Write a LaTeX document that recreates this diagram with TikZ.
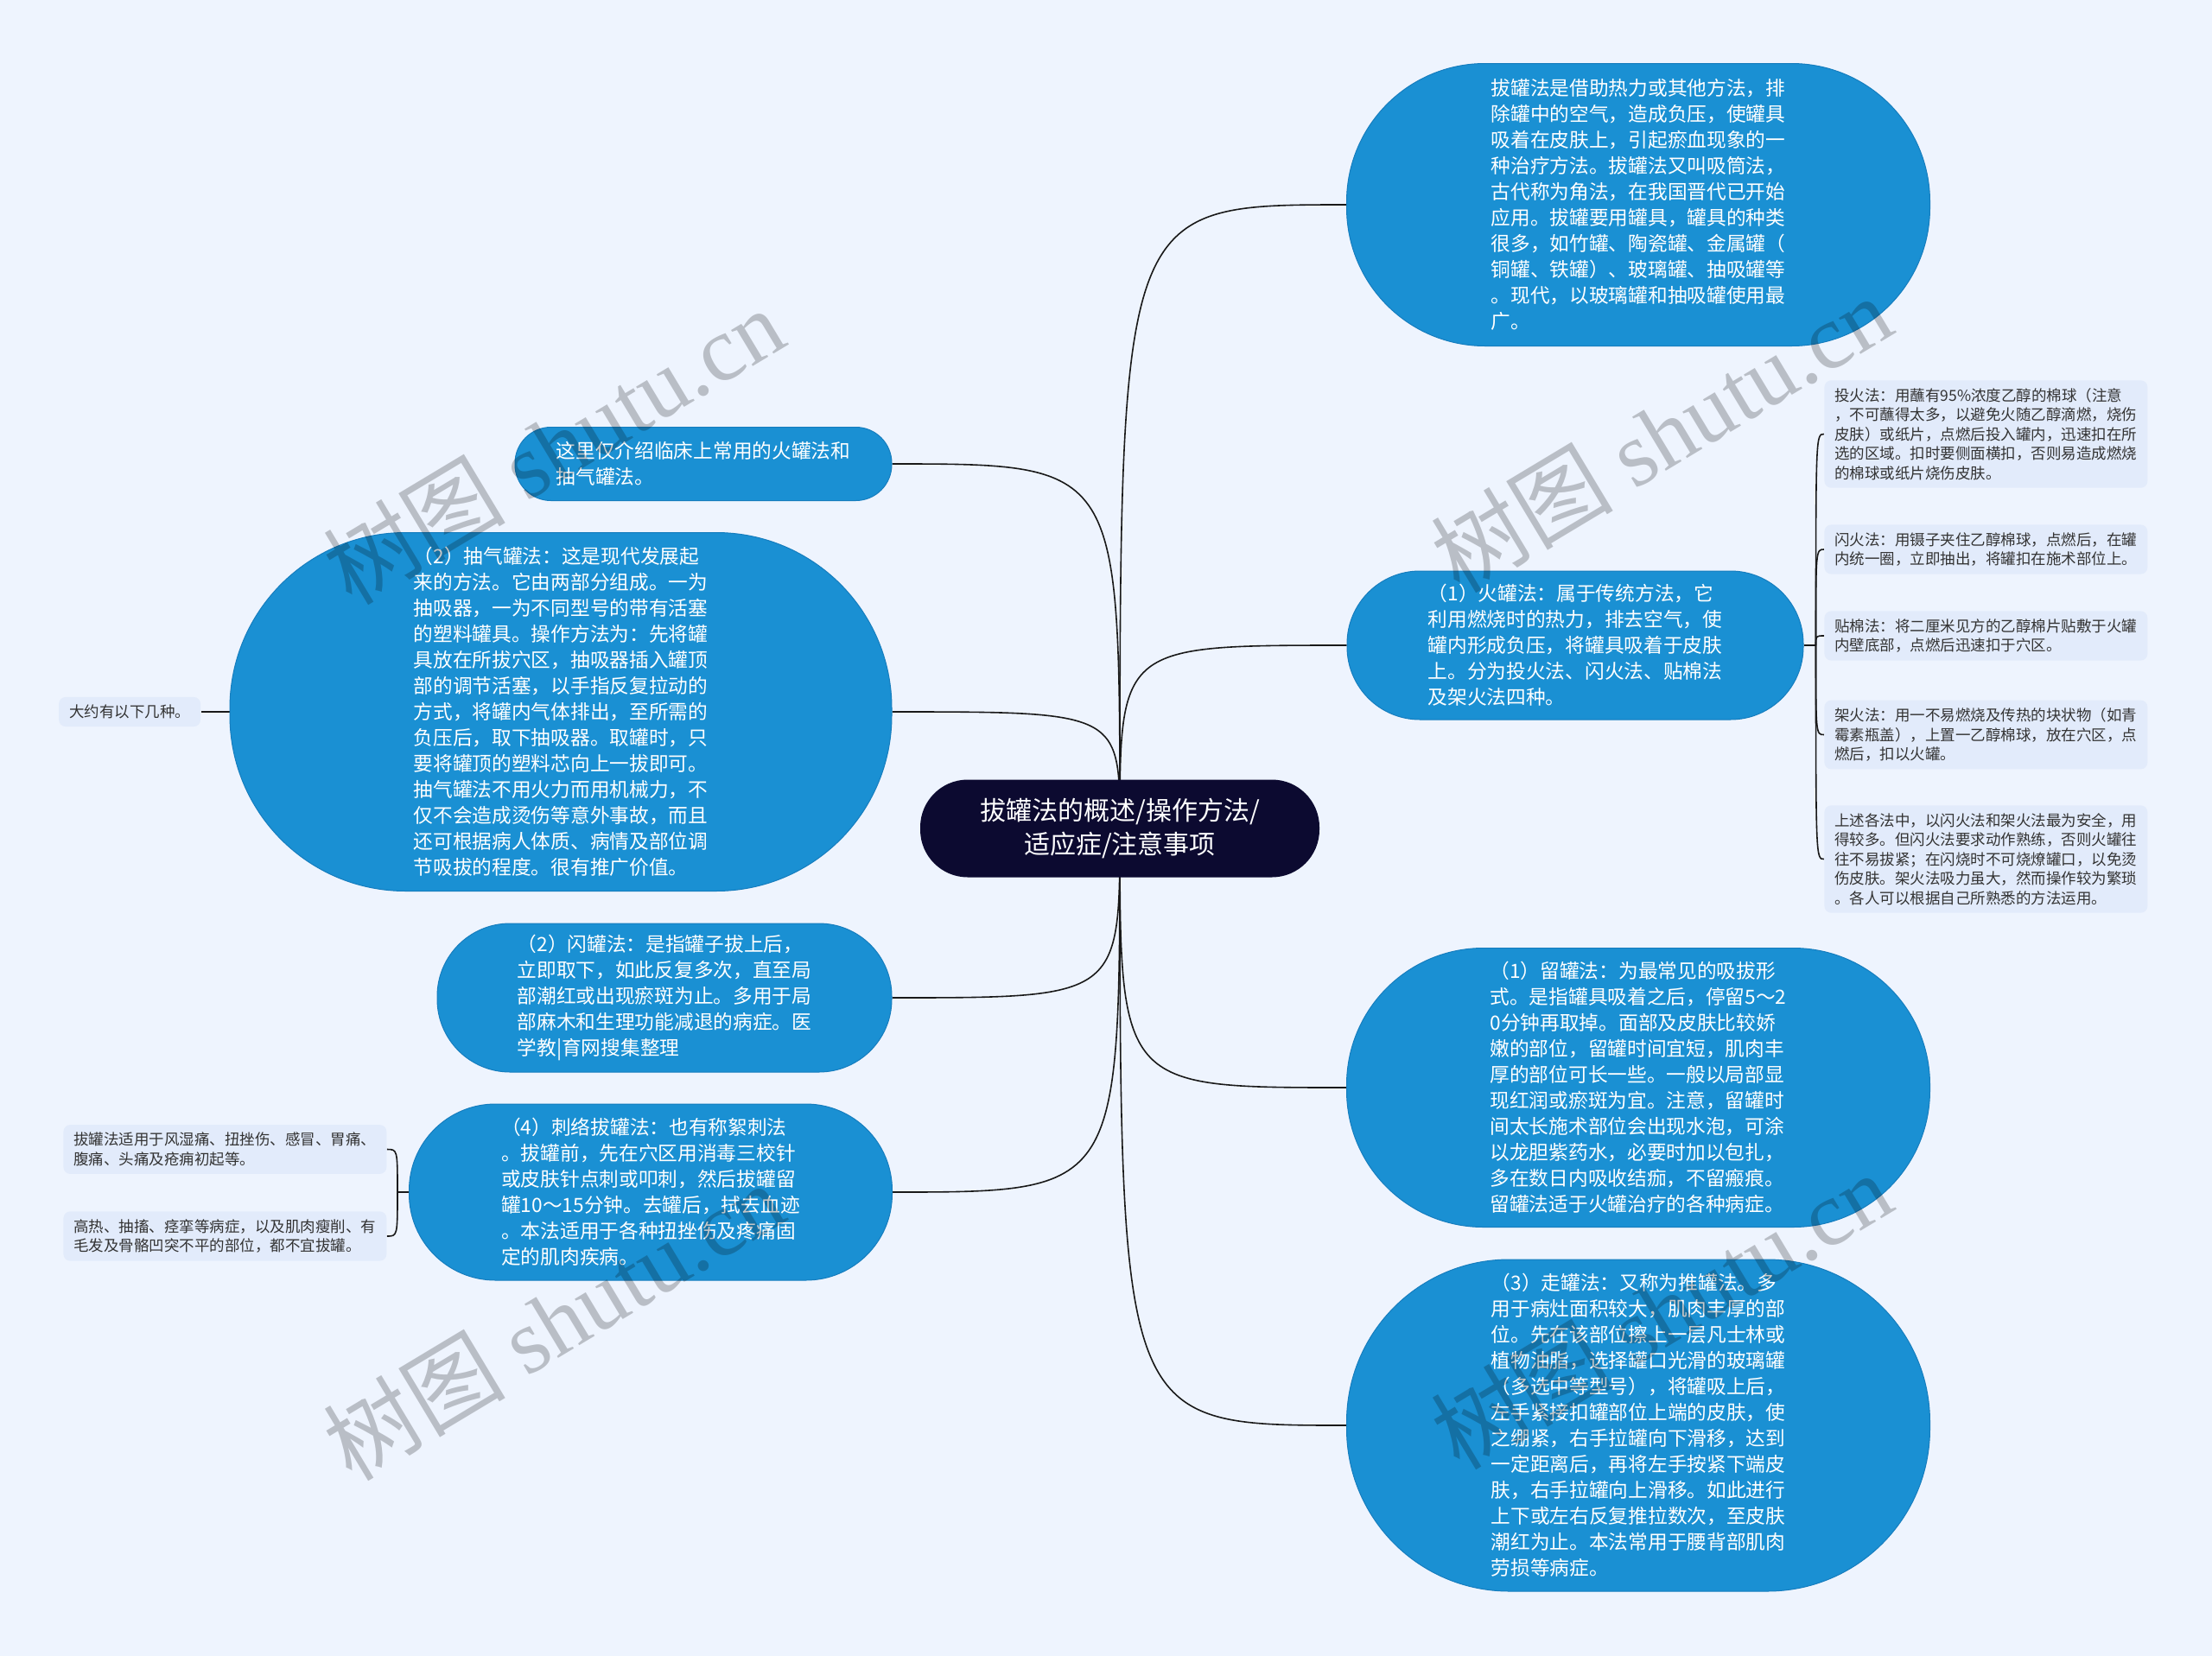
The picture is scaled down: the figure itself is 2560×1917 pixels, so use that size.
\documentclass[tikz,border=0pt]{standalone}
\usepackage{fontspec}
\setmainfont{Noto Sans CJK SC}
\newfontfamily\wmlatin{Liberation Serif}
\usetikzlibrary{positioning,calc}
\definecolor{pagebg}{RGB}{238,244,254}
\definecolor{blobfill}{RGB}{26,144,211}
\definecolor{blobedge}{RGB}{22,125,190}
\definecolor{rootfill}{RGB}{12,10,48}
\definecolor{leaffill}{RGB}{226,235,251}
\definecolor{leaftext}{RGB}{51,51,51}
\definecolor{linkcol}{RGB}{25,25,25}
\pgfdeclarelayer{back}
\pgfdeclarelayer{links}
\pgfsetlayers{back,links,main}

\begin{document}
\begin{tikzpicture}[
  x=0.5pt, y=-0.5pt,
  rootbox/.style={fill=rootfill, text=white, align=center, inner sep=0pt, minimum width=231pt, minimum height=56.5pt, rounded corners=27.5pt, font=\fontsize{15pt}{19.5pt}\selectfont},
  blob/.style 2 args={draw=blobedge, line width=0.5pt, fill=blobfill, text=white, align=left, inner sep=0pt, minimum width=#1, minimum height=#2, rounded corners=0.49*#2, font=\fontsize{11.35pt}{15pt}\selectfont},
  leaf/.style={fill=leaffill, text=leaftext, align=left, inner xsep=6pt, inner ysep=4.5pt, rounded corners=4pt, font=\fontsize{8.75pt}{11.25pt}\selectfont},
  link/.style={draw=linkcol, line width=0.8pt},
  wmark/.style={text=black, opacity=0.22, rotate=31, font=\fontsize{53pt}{60pt}\selectfont}
]
\useasboundingbox (0,0) rectangle (2560,1917);
\begin{pgfonlayer}{back}
  \fill[pagebg] (0,0) rectangle (2560,1917);
\end{pgfonlayer}

\node[rootbox] (root) at (1296,959) {拔罐法的概述/操作方法/\\适应症/注意事项};

\node[blob={337.5pt}{163.5pt}] (overview) at (1896,237)
  {拔罐法是借助热力或其他方法，排\\除罐中的空气，造成负压，使罐具\\吸着在皮肤上，引起瘀血现象的一\\种治疗方法。拔罐法又叫吸筒法，\\古代称为角法，在我国晋代已开始\\应用。拔罐要用罐具，罐具的种类\\很多，如竹罐、陶瓷罐、金属罐（\\铜罐、铁罐）、玻璃罐、抽吸罐等\\。现代，以玻璃罐和抽吸罐使用最\\广。};
\node[blob={264pt}{86pt}] (fire) at (1823,747)
  {（1）火罐法：属于传统方法，它\\利用燃烧时的热力，排去空气，使\\罐内形成负压，将罐具吸着于皮肤\\上。分为投火法、闪火法、贴棉法\\及架火法四种。};
\node[blob={337.5pt}{161.5pt}] (retain) at (1896,1259)
  {（1）留罐法：为最常见的吸拔形\\式。是指罐具吸着之后，停留5～2\\0分钟再取掉。面部及皮肤比较娇\\嫩的部位，留罐时间宜短，肌肉丰\\厚的部位可长一些。一般以局部显\\现红润或瘀斑为宜。注意，留罐时\\间太长施术部位会出现水泡，可涂\\以龙胆紫药水，必要时加以包扎，\\多在数日内吸收结痂，不留瘢痕。\\留罐法适于火罐治疗的各种病症。};
\node[blob={337.5pt}{192pt}] (slide) at (1896,1650)
  {（3）走罐法：又称为推罐法。多\\用于病灶面积较大，肌肉丰厚的部\\位。先在该部位擦上一层凡士林或\\植物油脂，选择罐口光滑的玻璃罐\\（多选中等型号），将罐吸上后，\\左手紧接扣罐部位上端的皮肤，使\\之绷紧，右手拉罐向下滑移，达到\\一定距离后，再将左手按紧下端皮\\肤，右手拉罐向上滑移。如此进行\\上下或左右反复推拉数次，至皮肤\\潮红为止。本法常用于腰背部肌肉\\劳损等病症。};

\node[blob={218pt}{42.5pt}] (scope) at (814,537)
  {这里仅介绍临床上常用的火罐法和\\抽气罐法。};
\node[blob={383pt}{207.5pt}] (suction) at (649,824)
  {（2）抽气罐法：这是现代发展起\\来的方法。它由两部分组成。一为\\抽吸器，一为不同型号的带有活塞\\的塑料罐具。操作方法为：先将罐\\具放在所拔穴区，抽吸器插入罐顶\\部的调节活塞，以手指反复拉动的\\方式，将罐内气体排出，至所需的\\负压后，取下抽吸器。取罐时，只\\要将罐顶的塑料芯向上一拔即可。\\抽气罐法不用火力而用机械力，不\\仅不会造成烫伤等意外事故，而且\\还可根据病人体质、病情及部位调\\节吸拔的程度。很有推广价值。};
\node[blob={263pt}{86pt}] (flash) at (769,1155)
  {（2）闪罐法：是指罐子拔上后，\\立即取下，如此反复多次，直至局\\部潮红或出现瘀斑为止。多用于局\\部麻木和生理功能减退的病症。医\\学教|育网搜集整理};
\node[blob={279.5pt}{102pt}] (prick) at (753,1380)
  {（4）刺络拔罐法：也有称絮刺法\\。拔罐前，先在穴区用消毒三校针\\或皮肤针点刺或叩刺，然后拔罐留\\罐10～15分钟。去罐后，拭去血迹\\。本法适用于各种扭挫伤及疼痛固\\定的肌肉疾病。};

\node[leaf, anchor=west] (dropfire) at (2111,502.5)
  {投火法：用蘸有95\%浓度乙醇的棉球（注意\\，不可蘸得太多，以避免火随乙醇滴燃，烧伤\\皮肤）或纸片，点燃后投入罐内，迅速扣在所\\选的区域。扣时要侧面横扣，否则易造成燃烧\\的棉球或纸片烧伤皮肤。};
\node[leaf, anchor=west] (flashfire) at (2111,636)
  {闪火法：用镊子夹住乙醇棉球，点燃后，在罐\\内统一圈，立即抽出，将罐扣在施术部位上。};
\node[leaf, anchor=west] (cotton) at (2111,736)
  {贴棉法：将二厘米见方的乙醇棉片贴敷于火罐\\内壁底部，点燃后迅速扣于穴区。};
\node[leaf, anchor=west] (frame) at (2111,850.5)
  {架火法：用一不易燃烧及传热的块状物（如青\\霉素瓶盖），上置一乙醇棉球，放在穴区，点\\燃后，扣以火罐。};
\node[leaf, anchor=west] (safety) at (2111,994.5)
  {上述各法中，以闪火法和架火法最为安全，用\\得较多。但闪火法要求动作熟练，否则火罐往\\往不易拔紧；在闪烧时不可烧燎罐口，以免烫\\伤皮肤。架火法吸力虽大，然而操作较为繁琐\\。各人可以根据自己所熟悉的方法运用。};

\node[leaf, left=16.5pt of suction] (kinds) {大约有以下几种。};
\node[leaf, anchor=west] (suits) at (73,1330.5)
  {拔罐法适用于风湿痛、扭挫伤、感冒、胃痛、\\腹痛、头痛及疮痈初起等。};
\node[leaf, anchor=west] (avoid) at (73,1431)
  {高热、抽搐、痉挛等病症，以及肌肉瘦削、有\\毛发及骨骼凹突不平的部位，都不宜拔罐。};

\coordinate[right=7pt of fire.east] (firejoint);
\coordinate[left=6.5pt of prick.west] (prickjoint);

\begin{pgfonlayer}{links}
  \foreach \n in {overview,fire,retain,slide}
    \draw[link] (root.center) .. controls (root.center |- \n.west) .. (\n.west);
  \foreach \n in {scope,suction,flash,prick}
    \draw[link] (root.center) .. controls (root.center |- \n.east) .. (\n.east);
  \draw[link] (fire.east) -- (firejoint);
  \foreach \n in {dropfire,flashfire,cotton,frame,safety}
    \draw[link] (firejoint) .. controls (firejoint |- \n.west) .. (\n.west);
  \draw[link] (prick.west) -- (prickjoint);
  \foreach \n in {suits,avoid}
    \draw[link] (prickjoint) .. controls (prickjoint |- \n.east) .. (\n.east);
  \draw[link] (suction.west) -- (kinds.east);
\end{pgfonlayer}

\foreach \p [count=\i] in {(640,516),(1922,502),(640,1529),(1922,1517)}
  \node[wmark] (wm\i) at \p {树图 {\wmlatin shutu.cn}};
\end{tikzpicture}
\end{document}
